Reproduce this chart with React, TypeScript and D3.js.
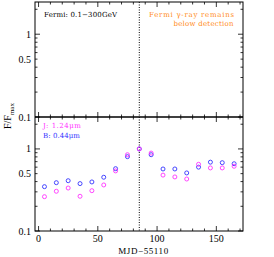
import * as d3 from 'd3';

// MJD-55110 sampling (every 10 days) and normalised fluxes
const days = [5, 15, 25, 35, 45, 55, 65, 75, 85, 95, 105, 115, 125, 135, 145, 155, 165];
const fluxJ = [0.262, 0.305, 0.334, 0.265, 0.31, 0.364, 0.54, 0.85, 1.0, 0.89, 0.48, 0.456, 0.43, 0.65, 0.587, 0.587, 0.615];
const fluxB = [0.347, 0.388, 0.41, 0.378, 0.396, 0.452, 0.575, 0.805, 1.0, 0.85, 0.57, 0.57, 0.51, 0.6, 0.69, 0.68, 0.66];
const xMajor = [0, 50, 100, 150];
const xMinor = d3.range(0, 171, 10);
const yMajor = [0.1, 1];
const yMinor = [0.2, 0.3, 0.4, 0.5, 0.6, 0.7, 0.8, 0.9, 2];
const yLabels = [0.1, 0.5, 1];
const peakDay = 85;

const W = 274;
const H = 257;
const L = 35, R = 243, T = 2, MID = 117, B = 231;
const serif = '"Liberation Serif", "DejaVu Serif", serif';
const small = '"DejaVu Serif", serif';
const magenta = '#ff33ff';
const blue = '#3333ff';
const orange = '#ff8c1a';

const x = d3.scaleLinear().domain([-3, 172.5]).range([L, R]);
const yUp = d3.scaleLog().domain([0.1, 2.45]).range([MID, T]);
const yLo = d3.scaleLog().domain([0.1, 2.45]).range([B, MID]);

const Panel = ({ y, top, bottom }: { y: d3.ScaleLogarithmic<number, number>; top: number; bottom: number }) => {
    const ticks: JSX.Element[] = [];
    xMinor.forEach((d) => {
        const len = xMajor.includes(d) ? 5 : 2.5;
        ticks.push(<line key={'xb' + d} x1={x(d)} x2={x(d)} y1={bottom} y2={bottom - len} />);
        ticks.push(<line key={'xt' + d} x1={x(d)} x2={x(d)} y1={top} y2={top + len} />);
    });
    [...yMajor, ...yMinor].forEach((d) => {
        const len = yMajor.includes(d) ? 5 : 2.5;
        ticks.push(<line key={'yl' + d} x1={L} x2={L + len} y1={y(d)} y2={y(d)} />);
        ticks.push(<line key={'yr' + d} x1={R} x2={R - len} y1={y(d)} y2={y(d)} />);
    });
    return (
        <g>
            <g stroke="#000" strokeWidth={0.8}>{ticks}</g>
            {yLabels.map((d) => (
                <text key={d} x={L - 4} y={y(d) + 3.5} textAnchor="end" fontSize={10} fontFamily={serif}>
                    {d}
                </text>
            ))}
        </g>
    );
};

export default function App() {
    return (
        <svg width={W} height={H} style={{ position: 'absolute', left: 0, top: 0, background: '#fff' }}>
            <Panel y={yUp} top={T} bottom={MID} />
            <Panel y={yLo} top={MID} bottom={B} />
            <rect x={L} y={T} width={R - L} height={B - T} fill="none" stroke="#000" strokeWidth={1} />
            <line x1={L} x2={R} y1={MID} y2={MID} stroke="#000" strokeWidth={1.3} />
            <line x1={x(peakDay)} x2={x(peakDay)} y1={T} y2={B} stroke="#000" strokeWidth={1} strokeDasharray="1,1.5" />

            {xMajor.map((d) => (
                <text key={d} x={x(d)} y={242} textAnchor="middle" fontSize={10} fontFamily={serif}>
                    {d}
                </text>
            ))}
            <text x={143.5} y={254} textAnchor="middle" fontSize={9} fontFamily={serif} letterSpacing={0.6}>
                MJD−55110
            </text>
            <text transform="translate(11,116) rotate(-90)" textAnchor="middle" fontSize={10} fontFamily={serif}>
                F/F<tspan fontSize={7} dy={2.5}>max</tspan>
            </text>

            <text x={44} y={17} fontSize={7} fontFamily={small} textLength={73}>
                Fermi: 0.1−300GeV
            </text>
            <text x={149} y={17} fontSize={7} fontFamily={small} fill={orange} textLength={85}>
                Fermi γ-ray remains
            </text>
            <text x={173.5} y={26} fontSize={7} fontFamily={small} fill={orange} textLength={60}>
                below detection
            </text>

            <text x={43} y={127.5} fontSize={7} fontFamily={small} fill={magenta} textLength={38}>
                J: 1.24μm
            </text>
            <text x={43} y={137.5} fontSize={7} fontFamily={small} fill={blue} textLength={37}>
                B: 0.44μm
            </text>

            {days.map((d, i) => (
                <circle key={'b' + d} cx={x(d)} cy={yLo(fluxB[i])} r={2} fill="none" stroke={blue} strokeWidth={0.9} />
            ))}
            {days.map((d, i) => (
                <circle key={'j' + d} cx={x(d)} cy={yLo(fluxJ[i])} r={2} fill="none" stroke={magenta} strokeWidth={0.9} />
            ))}
        </svg>
    );
}
